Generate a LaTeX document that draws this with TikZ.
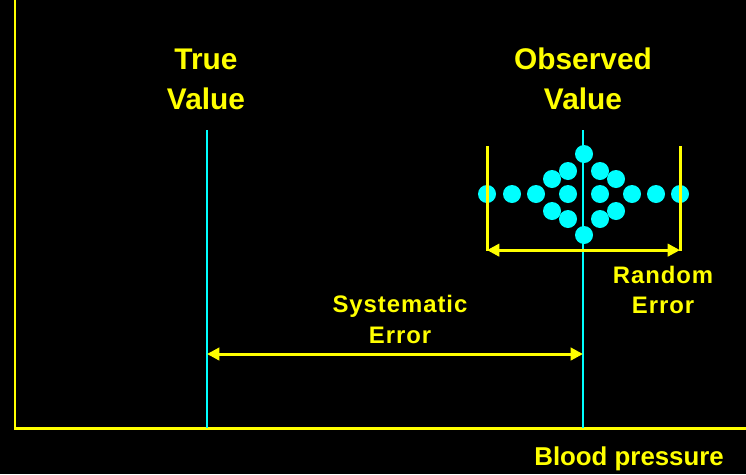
\documentclass[tikz,border=0pt]{standalone}
\usepackage{fontspec}
\setmainfont{Liberation Sans}
\newfontfamily\spacedbold[LetterSpace=4]{Liberation Sans Bold}
\usetikzlibrary{arrows.meta}

\definecolor{ayellow}{RGB}{255,255,0}
\definecolor{acyan}{RGB}{0,255,255}

\begin{document}
\begin{tikzpicture}[x=0.02cm,y=-0.02cm,>={Triangle[length=7pt,width=7pt]}]
\useasboundingbox[fill=black] (0,0) rectangle (746,474);
%\draw[help lines] (0,0) grid[step=50] (746,474);

% axes
\coordinate (ytop) at (15,0);
\coordinate (origin) at (15,428);
\coordinate (xend) at (746,428);
\draw[line width=1.7pt,ayellow] (ytop) -- (origin) -- (xend);

% spread of the measurements
\foreach \x/\y in {487/194, 512/194, 536/194, 568/194, 600/194, 632/194, 656/194, 680/194,
                   584/154, 568/171, 552/179, 600/171, 616/179,
                   552/211, 568/219, 600/219, 616/211, 584/235}
  \fill[acyan] (\x,\y) circle[radius=0.18cm];

% true and observed value
\coordinate (truetop) at (207,130);
\coordinate (truefoot) at (207,428);
\coordinate (obstop) at (583,130);
\coordinate (obsfoot) at (583,428);
\draw[line width=1.1pt,acyan] (truetop) -- (truefoot);
\draw[line width=1.1pt,acyan] (obstop) -- (obsfoot);

% width of the spread
\coordinate (rleft) at (487,146);
\coordinate (rright) at (680,146);
\coordinate (rleftend) at (487,251);
\coordinate (rrightend) at (680,251);
\draw[line width=1.7pt,ayellow] (rleft) -- (rleftend);
\draw[line width=1.7pt,ayellow] (rright) -- (rrightend);
\draw[line width=1.7pt,ayellow,<->] ([yshift=0.5pt]rleftend) -- ([yshift=0.5pt]rrightend);

% offset between the two values
\coordinate (sysleft) at (207,354);
\coordinate (sysright) at (583,354);
\draw[line width=1.7pt,ayellow,<->] (sysleft) -- (sysright);

\node[anchor=base,align=center,text=ayellow,font=\fontsize{17}{22.7}\selectfont\bfseries] (truelabel) at (206,109) {True\\Value};
\node[anchor=base,align=center,text=ayellow,font=\fontsize{17}{22.7}\selectfont\bfseries] (obslabel) at (583,109) {Observed\\Value};
\node[anchor=base,align=center,text=ayellow,font=\spacedbold\fontsize{13.6}{17.6}\selectfont] (syslabel) at (400,343) {Systematic\\Error};
\node[anchor=base,align=center,text=ayellow,font=\spacedbold\fontsize{13.6}{17}\selectfont] (randlabel) at (663,313) {Random\\Error};
\node[anchor=base east,text=ayellow,font=\fontsize{14.7}{18}\selectfont\bfseries] (xlabel) at (730,465) {Blood pressure};
\end{tikzpicture}
\end{document}
